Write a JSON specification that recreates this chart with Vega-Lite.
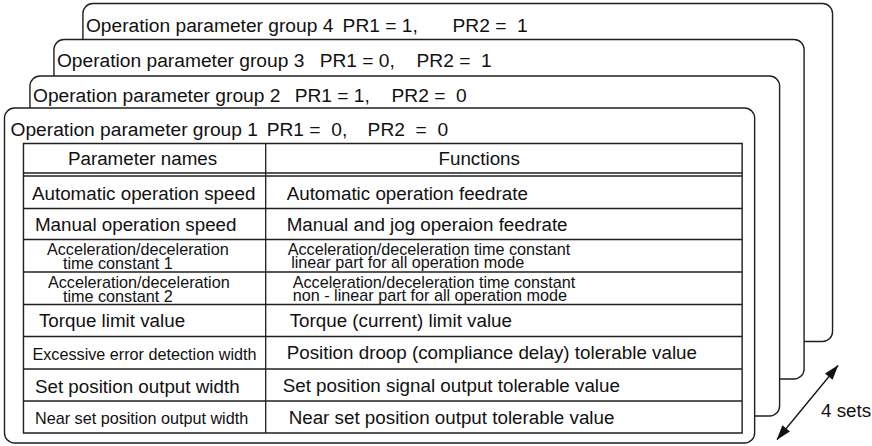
{
  "$schema": "https://vega.github.io/schema/vega-lite/v6.json",
  "width": 872,
  "height": 446,
  "autosize": {"type": "fit", "contains": "padding"},
  "padding": 0,
  "background": "white",
  "config": {"view": {"stroke": null}, "text": {"font": "Liberation Sans"}},
  "datasets": {
    "cards": [
      {"group": 4, "left": 83, "top": 3.5, "right": 833.5, "bottom": 341.5},
      {"group": 3, "left": 54, "top": 39.5, "right": 805, "bottom": 379},
      {"group": 2, "left": 30, "top": 76, "right": 780.5, "bottom": 416},
      {"group": 1, "left": 4.5, "top": 108, "right": 755.5, "bottom": 443}
    ],
    "table": [
      {"left": 23.5, "top": 143.5, "right": 743, "bottom": 433}
    ],
    "gridlines": [
      {"x": 23.5, "x2": 743, "y": 173, "y2": 173},
      {"x": 23.5, "x2": 743, "y": 176, "y2": 176},
      {"x": 23.5, "x2": 743, "y": 208.5, "y2": 208.5},
      {"x": 23.5, "x2": 743, "y": 239.5, "y2": 239.5},
      {"x": 23.5, "x2": 743, "y": 272, "y2": 272},
      {"x": 23.5, "x2": 743, "y": 304.5, "y2": 304.5},
      {"x": 23.5, "x2": 743, "y": 336.5, "y2": 336.5},
      {"x": 23.5, "x2": 743, "y": 369, "y2": 369},
      {"x": 23.5, "x2": 743, "y": 401, "y2": 401},
      {"x": 266, "x2": 266, "y": 143.5, "y2": 433}
    ],
    "labels": [
      {"label": "Operation parameter group 4", "x": 86, "y": 31.5, "kind": "title"},
      {"label": "PR1 = 1,", "x": 343, "y": 31.5, "kind": "title"},
      {"label": "PR2 =\u00a0 1", "x": 453, "y": 31.5, "kind": "title"},
      {"label": "Operation parameter group 3", "x": 57, "y": 66.5, "kind": "title"},
      {"label": "PR1 = 0,", "x": 320, "y": 66.5, "kind": "title"},
      {"label": "PR2 =\u00a0 1", "x": 417, "y": 66.5, "kind": "title"},
      {"label": "Operation parameter group 2", "x": 33, "y": 101.5, "kind": "title"},
      {"label": "PR1 = 1,", "x": 295, "y": 101.5, "kind": "title"},
      {"label": "PR2 =\u00a0 0", "x": 392, "y": 101.5, "kind": "title"},
      {"label": "Operation parameter group 1", "x": 10.5, "y": 136, "kind": "title"},
      {"label": "PR1 =\u00a0 0,", "x": 267, "y": 136, "kind": "title"},
      {"label": "PR2\u00a0 =\u00a0 0", "x": 368, "y": 136, "kind": "title"},
      {"label": "Parameter names", "x": 68, "y": 165, "kind": "large"},
      {"label": "Functions", "x": 439, "y": 165, "kind": "large"},
      {"label": "Automatic operation speed", "x": 32, "y": 200, "kind": "large"},
      {"label": "Automatic operation feedrate", "x": 287, "y": 200, "kind": "large"},
      {"label": "Manual operation speed", "x": 35, "y": 231, "kind": "large"},
      {"label": "Manual and jog operaion feedrate", "x": 287, "y": 231, "kind": "large"},
      {"label": "Acceleration/deceleration", "x": 47, "y": 254.5, "kind": "small"},
      {"label": "time constant 1", "x": 63, "y": 269, "kind": "small"},
      {"label": "Acceleration/deceleration time constant", "x": 288, "y": 254.5, "kind": "small"},
      {"label": "linear part for all operation mode", "x": 291.5, "y": 267.5, "kind": "small"},
      {"label": "Acceleration/deceleration", "x": 48, "y": 287.5, "kind": "small"},
      {"label": "time constant 2", "x": 63, "y": 302, "kind": "small"},
      {"label": "Acceleration/deceleration time constant", "x": 293, "y": 287.5, "kind": "small"},
      {"label": "non - linear part for all operation mode", "x": 293, "y": 300.5, "kind": "small"},
      {"label": "Torque limit value", "x": 39, "y": 327, "kind": "large"},
      {"label": "Torque (current) limit value", "x": 290, "y": 327, "kind": "large"},
      {"label": "Excessive error detection width", "x": 32.5, "y": 360, "kind": "small"},
      {"label": "Position droop (compliance delay) tolerable value", "x": 287, "y": 359, "kind": "large"},
      {"label": "Set position output width", "x": 35, "y": 393, "kind": "large"},
      {"label": "Set position signal output tolerable value", "x": 283, "y": 392, "kind": "large"},
      {"label": "Near set position output width", "x": 35, "y": 424, "kind": "small"},
      {"label": "Near set position output tolerable value", "x": 289, "y": 424, "kind": "large"},
      {"label": "4 sets", "x": 822, "y": 417, "kind": "large"}
    ],
    "arrow": [
      {"x": 778, "y": 439.5, "x2": 839, "y2": 365.5}
    ],
    "arrowheads": [
      {"end": "lower", "x": 777.5, "y": 440},
      {"end": "upper", "x": 839.3, "y": 365}
    ]
  },
  "layer": [
    {
      "data": {"name": "cards"},
      "mark": {"type": "rect", "cornerRadius": 10, "fill": "white", "stroke": "#1f1f1f", "strokeWidth": 1.4},
      "encoding": {
        "x": {"field": "left", "type": "quantitative", "scale": {"domain": [0, 872], "nice": false, "zero": false}, "axis": null},
        "x2": {"field": "right"},
        "y": {"field": "top", "type": "quantitative", "scale": {"domain": [0, 446], "reverse": true, "nice": false, "zero": false}, "axis": null},
        "y2": {"field": "bottom"}
      }
    },
    {
      "data": {"name": "table"},
      "mark": {"type": "rect", "fill": "white", "stroke": "#1f1f1f", "strokeWidth": 1.4},
      "encoding": {
        "x": {"field": "left", "type": "quantitative"},
        "x2": {"field": "right"},
        "y": {"field": "top", "type": "quantitative"},
        "y2": {"field": "bottom"}
      }
    },
    {
      "data": {"name": "gridlines"},
      "mark": {"type": "rule", "stroke": "#1f1f1f", "strokeWidth": 1.3},
      "encoding": {
        "x": {"field": "x", "type": "quantitative"},
        "x2": {"field": "x2"},
        "y": {"field": "y", "type": "quantitative"},
        "y2": {"field": "y2"}
      }
    },
    {
      "data": {"name": "labels"},
      "transform": [{"filter": {"field": "kind", "equal": "title"}}],
      "mark": {"type": "text", "align": "left", "baseline": "alphabetic", "fontSize": 19.2, "color": "#111111"},
      "encoding": {
        "x": {"field": "x", "type": "quantitative"},
        "y": {"field": "y", "type": "quantitative"},
        "text": {"field": "label"}
      }
    },
    {
      "data": {"name": "labels"},
      "transform": [{"filter": {"field": "kind", "equal": "large"}}],
      "mark": {"type": "text", "align": "left", "baseline": "alphabetic", "fontSize": 18.8, "color": "#111111"},
      "encoding": {
        "x": {"field": "x", "type": "quantitative"},
        "y": {"field": "y", "type": "quantitative"},
        "text": {"field": "label"}
      }
    },
    {
      "data": {"name": "labels"},
      "transform": [{"filter": {"field": "kind", "equal": "small"}}],
      "mark": {"type": "text", "align": "left", "baseline": "alphabetic", "fontSize": 16.2, "color": "#111111"},
      "encoding": {
        "x": {"field": "x", "type": "quantitative"},
        "y": {"field": "y", "type": "quantitative"},
        "text": {"field": "label"}
      }
    },
    {
      "data": {"name": "arrow"},
      "mark": {"type": "rule", "stroke": "#111111", "strokeWidth": 1.3},
      "encoding": {
        "x": {"field": "x", "type": "quantitative"},
        "x2": {"field": "x2"},
        "y": {"field": "y", "type": "quantitative"},
        "y2": {"field": "y2"}
      }
    },
    {
      "data": {"name": "arrowheads"},
      "transform": [{"filter": {"field": "end", "equal": "upper"}}],
      "mark": {"type": "point", "shape": "M0,0L0.65,2L-0.65,2Z", "size": 225, "filled": true, "color": "#111111", "opacity": 1, "strokeWidth": 0, "angle": 39.5},
      "encoding": {
        "x": {"field": "x", "type": "quantitative"},
        "y": {"field": "y", "type": "quantitative"}
      }
    },
    {
      "data": {"name": "arrowheads"},
      "transform": [{"filter": {"field": "end", "equal": "lower"}}],
      "mark": {"type": "point", "shape": "M0,0L0.65,2L-0.65,2Z", "size": 225, "filled": true, "color": "#111111", "opacity": 1, "strokeWidth": 0, "angle": 219.5},
      "encoding": {
        "x": {"field": "x", "type": "quantitative"},
        "y": {"field": "y", "type": "quantitative"}
      }
    }
  ]
}
